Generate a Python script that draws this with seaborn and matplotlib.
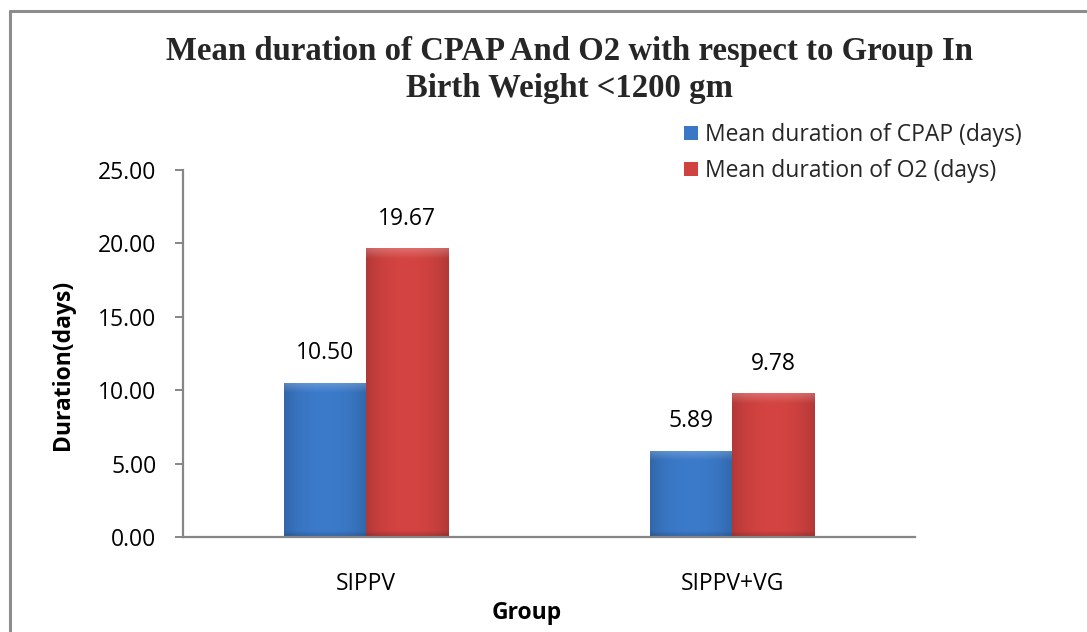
import numpy as np
import pandas as pd
import matplotlib
matplotlib.use('Agg')
import matplotlib.pyplot as plt
import seaborn as sns
from matplotlib.patches import Patch
from matplotlib.lines import Line2D
from matplotlib.colors import to_rgb

# ---- data ----
groups = ['SIPPV', 'SIPPV+VG']
series = ['Mean duration of CPAP (days)', 'Mean duration of O2 (days)']
cpap_days = [10.50, 5.89]
o2_days = [19.67, 9.78]
yticks = [0, 5, 10, 15, 20, 25]
title_lines = ['Mean duration of CPAP And O2 with respect to Group In',
               'Birth Weight <1200 gm']

df = pd.DataFrame({
    'Group': groups + groups,
    'Series': [series[0]] * len(groups) + [series[1]] * len(groups),
    'Duration': cpap_days + o2_days,
})

sns.set_theme(style='white')
plt.rcParams['font.family'] = ['Open Sans', 'DejaVu Sans']

W, H = 1087, 632
fig = plt.figure(figsize=(W / 100, H / 100), dpi=100)
ax = fig.add_axes([183 / W, 95 / H, 732 / W, 367 / H])

palette = ['#3a78c6', '#cf4240']
sns.barplot(data=df, x='Group', y='Duration', hue='Series', palette=palette,
            width=0.45, gap=0, saturation=1, ax=ax, edgecolor='none')

ax.set_xlim(-0.5, len(groups) - 0.5)
ax.set_ylim(0, 25)

# gradient / bevel look on each bar
for patch in list(ax.patches):
    h = patch.get_height()
    if h <= 0:
        continue
    x0, y0, w = patch.get_x(), patch.get_y(), patch.get_width()
    base = np.array(to_rgb(patch.get_facecolor()))
    nx, ny = 60, 200
    u = np.linspace(0, 1, nx)
    v = np.linspace(0, 1, ny)  # 0 bottom, 1 top
    horiz = 0.86 + 0.16 * (1 - np.abs(2 * u - 1) ** 2.5)
    img = base[None, None, :] * horiz[None, :, None]
    img = np.repeat(img, ny, axis=0)
    top_px = 10.0 / (h * 14.68)
    band = np.clip((v - (1 - top_px)) / top_px, 0, 1)
    img = img * (1 - 0.22 * band[:, None, None]) + 0.22 * band[:, None, None]
    bot_px = 6.0 / (h * 14.68)
    bshade = np.clip((bot_px - v) / bot_px, 0, 1)
    img = img * (1 - 0.18 * bshade[:, None, None])
    img = np.clip(img, 0, 1)
    im = ax.imshow(img, extent=[x0, x0 + w, y0, y0 + h], origin='lower',
                   aspect='auto', zorder=patch.get_zorder() + 0.1,
                   interpolation='bilinear')
    im.set_clip_path(patch)

ax.set_xlim(-0.5, len(groups) - 0.5)
ax.set_ylim(0, 25)
ax.set_aspect('auto')

# data labels
for cont in ax.containers:
    ax.bar_label(cont, fmt='%.2f', padding=12.5, fontsize=16.5, color='black')

# axes styling
for s in ['top', 'right']:
    ax.spines[s].set_visible(False)
for s in ['left', 'bottom']:
    ax.spines[s].set_color('#868686')
    ax.spines[s].set_linewidth(1.6)
ax.set_yticks(yticks)
ax.set_yticklabels([f'{t:.2f}' for t in yticks])
ax.tick_params(axis='y', length=6, width=1.4, color='#868686', pad=13,
               labelsize=16.5, labelcolor='black', left=True)
ax.tick_params(axis='x', length=0, pad=25, labelsize=16.5, labelcolor='black')
ax.grid(False)

ax.set_ylabel('Duration(days)', fontsize=16.5, fontweight='bold', color='black')
ax.yaxis.set_label_coords(-0.148, 0.47)
ax.set_xlabel('Group', fontsize=16.5, fontweight='bold', color='black')
ax.xaxis.set_label_coords((527 - 183) / 732, -0.175)

# legend
leg = ax.get_legend()
if leg is not None:
    leg.remove()
handles = [Patch(facecolor=c, edgecolor='none') for c in palette]
fig.legend(handles=handles, labels=series, loc='upper left',
           bbox_to_anchor=(684 / W, 1 - 123 / H), frameon=False,
           fontsize=16.5, handlelength=0.6, handleheight=0.6,
           handletextpad=0.3, labelspacing=0.52, borderpad=0,
           borderaxespad=0)

# title
fig.text(569.5 / W, 1 - 60 / H, title_lines[0], ha='center', va='baseline',
         fontfamily='Liberation Serif', fontweight='bold', fontsize=23.6)
fig.text(569.5 / W, 1 - 97 / H, title_lines[1], ha='center', va='baseline',
         fontfamily='Liberation Serif', fontweight='bold', fontsize=23.6)

# chart area frame (top and left edges visible)
fig.add_artist(Line2D([9.5 / W, 9.5 / W], [0, 1 - 11 / H],
                      transform=fig.transFigure, color='#8c8c8c', lw=2.2))
fig.add_artist(Line2D([9.5 / W, 1], [1 - 11 / H, 1 - 11 / H],
                      transform=fig.transFigure, color='#8c8c8c', lw=2.2))

fig.savefig('out.png', dpi=100)
